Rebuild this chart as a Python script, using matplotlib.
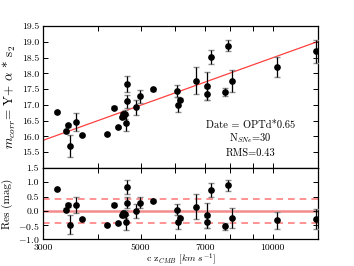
import numpy as np
import matplotlib
matplotlib.use("Agg")
import matplotlib.pyplot as plt
from matplotlib.ticker import FixedLocator, FixedFormatter, NullLocator

plt.rcParams['font.family'] = 'serif'
plt.rcParams['font.serif'] = ['cmr10', 'DejaVu Serif']
plt.rcParams['mathtext.fontset'] = 'cm'
plt.rcParams['axes.formatter.use_mathtext'] = True
plt.rcParams['axes.unicode_minus'] = True

# ---- data ----
cz = [3219, 3380, 3410, 3446, 3557, 3682, 4185, 4349, 4430, 4529,
      4567, 4596, 4640, 4649, 4655, 4882, 4985, 5330, 6046, 6077,
      6152, 6691, 7090, 7100, 7240, 7780, 7916, 8054, 10204, 12549]
m_corr = [16.78, 16.16, 16.35, 15.69, 16.45, 16.03, 16.08, 16.91, 16.29, 16.62,
          16.70, 16.70, 16.43, 17.11, 17.67, 16.92, 17.27, 17.49, 17.45, 17.01,
          17.17, 17.77, 17.59, 17.34, 18.52, 17.41, 18.88, 17.77, 18.20, 18.70]
res = [0.75, 0.03, 0.20, -0.49, 0.21, -0.30, -0.51, 0.22, -0.44, -0.15,
       -0.09, -0.11, -0.40, 0.28, 0.84, -0.02, 0.29, 0.36, 0.04, -0.39,
       -0.27, 0.15, -0.16, -0.41, 0.73, -0.54, 0.89, -0.25, -0.34, -0.29]
err = [0.03, 0.05, 0.06, 0.34, 0.28, 0.03, 0.03, 0.04, 0.03, 0.04,
       0.04, 0.15, 0.26, 0.20, 0.25, 0.25, 0.20, 0.05, 0.19, 0.25,
       0.05, 0.43, 0.45, 0.20, 0.23, 0.12, 0.18, 0.35, 0.31, 0.36]

fit_slope = 5.0
fit_zp = -1.506
rms = 0.43
n_sne = 30
date_text = "Date = OPTd*0.65"

xmin, xmax = 3000, 12700
xtick_vals = [3000, 4000, 5000, 6000, 7000, 8000, 9000, 10000]
xtick_labels = ['3000', '', '5000', '', '7000', '', '', '10000']
top_yticks = [15.5, 16.0, 16.5, 17.0, 17.5, 18.0, 18.5, 19.0, 19.5]
bot_yticks = [-1.0, -0.5, 0.0, 0.5, 1.0, 1.5]

cz = np.array(cz, float)
m_corr = np.array(m_corr)
res = np.array(res)
err = np.array(err)

fig = plt.figure(figsize=(3.54, 2.66), dpi=100)
ax1 = fig.add_axes([0.1223, 0.3684, 0.7769, 0.5339])
ax2 = fig.add_axes([0.1223, 0.1004, 0.7769, 0.2680], sharex=ax1)

for ax in (ax1, ax2):
    ax.set_xscale('log')
    ax.xaxis.set_major_locator(FixedLocator(xtick_vals))
    ax.xaxis.set_minor_locator(NullLocator())
    ax.tick_params(direction='in', top=True, right=True, length=3.5,
                   width=0.7, labelsize=7, pad=3)
    for s in ax.spines.values():
        s.set_linewidth(0.9)

# top panel
xx = np.geomspace(xmin, xmax, 200)
ax1.plot(xx, fit_slope * np.log10(xx) + fit_zp, color='red', lw=0.9, alpha=0.75, zorder=2)
ax1.errorbar(cz, m_corr, yerr=err, fmt='none', ecolor='0.55', elinewidth=1.0,
             capsize=2.2, capthick=1.0, zorder=3)
ax1.errorbar(cz, m_corr, yerr=err, fmt='o', color='black', ms=3.8,
             ecolor='black', elinewidth=0.8, capsize=0, zorder=4)
ax1.set_xlim(xmin, xmax)
ax1.set_ylim(15.0, 19.5)
ax1.set_yticks(top_yticks)
ax1.set_yticklabels(['%.1f' % v for v in top_yticks])
plt.setp(ax1.get_xticklabels(), visible=False)
ax1.set_ylabel(r'$m_{corr}$= Y+ $\alpha$ * s$_2$', fontsize=9.5, labelpad=3)

ax1.text(0.752, 0.303, date_text, transform=ax1.transAxes, ha='center', va='center', fontsize=7.5)
ax1.text(0.752, 0.211, r'N$_{SNe}$=%d' % n_sne, transform=ax1.transAxes, ha='center', va='center', fontsize=7.5)
ax1.text(0.752, 0.106, 'RMS=%.2f' % rms, transform=ax1.transAxes, ha='center', va='center', fontsize=7.5)

# bottom panel
ax2.axhline(0.0, color='#f07878', lw=1.8, alpha=0.85, zorder=1)
ax2.axhline(rms, color='#ff6060', lw=1.2, ls=(0, (4, 3)), alpha=0.8, zorder=1)
ax2.axhline(-rms, color='#ff6060', lw=1.2, ls=(0, (4, 3)), alpha=0.8, zorder=1)
ax2.errorbar(cz, res, yerr=err, fmt='none', ecolor='0.55', elinewidth=1.0,
             capsize=2.2, capthick=1.0, zorder=3)
ax2.errorbar(cz, res, yerr=err, fmt='o', color='black', ms=3.8,
             ecolor='black', elinewidth=0.8, capsize=0, zorder=4)
ax2.set_ylim(-1.0, 1.5)
ax2.set_yticks(bot_yticks)
ax2.set_yticklabels([r'$%.1f$' % v if v < 0 else '%.1f' % v for v in bot_yticks])
ax2.xaxis.set_major_formatter(FixedFormatter(xtick_labels))
ax2.tick_params(axis='x', pad=3)
ax2.set_xlim(xmin, xmax)
ax2.set_ylabel('Res (mag)', fontsize=8, labelpad=3)
ax2.set_xlabel(r'c z$_{CMB}$ [$km\ s^{-1}$]', fontsize=7.0)
ax2.xaxis.set_label_coords(0.5, -0.165)

fig.savefig('out.png', dpi=100)
